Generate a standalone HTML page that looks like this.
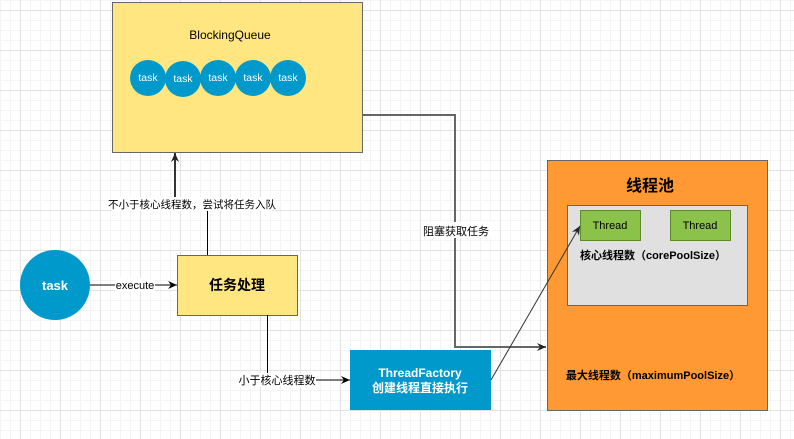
<!DOCTYPE html>
<html><head><meta charset="utf-8"><style>
html,body{margin:0;padding:0;}
body{width:794px;height:439px;overflow:hidden;background:#fff;
background-image:
linear-gradient(to right,#e2e2e2 1px,transparent 1px),
linear-gradient(to bottom,#e2e2e2 1px,transparent 1px),
linear-gradient(to right,#f4f4f4 1px,transparent 1px),
linear-gradient(to bottom,#f4f4f4 1px,transparent 1px);
background-size:40px 40px,40px 40px,10px 10px,10px 10px;
background-position:20px 0,0 10px,0 0,0 0;
font-family:"Liberation Sans","Noto Sans CJK SC",sans-serif;}
svg{position:absolute;left:0;top:0;}
text{font-family:"Liberation Sans","Noto Sans CJK SC",sans-serif;}
</style></head><body>
<svg width="794" height="439" viewBox="0 0 794 439">
<defs>
<marker id="a" markerWidth="10" markerHeight="10" refX="9" refY="5" orient="auto" markerUnits="userSpaceOnUse"><path d="M0,1 L9,5 L0,9 L3,5Z" fill="#000"/></marker>
<marker id="g" markerWidth="10" markerHeight="10" refX="9" refY="5" orient="auto" markerUnits="userSpaceOnUse"><path d="M0,1 L9,5 L0,9 L3,5Z" fill="#222"/></marker>
</defs>
<rect x="112.5" y="2.5" width="250" height="150" fill="#ffe680" stroke="#666"/>
<text x="230" y="39" font-size="12" text-anchor="middle">BlockingQueue</text>
<g fill="#0099cc">
<circle cx="148" cy="78" r="18"/><circle cx="183" cy="79" r="18"/><circle cx="218" cy="78" r="18"/><circle cx="253" cy="78" r="18"/><circle cx="288" cy="78" r="18"/></g>
<g fill="#fff" font-size="10.5" text-anchor="middle">
<text x="148" y="81">task</text><text x="183" y="82">task</text><text x="218" y="81">task</text><text x="253" y="81">task</text><text x="288" y="81">task</text></g>
<polyline points="362,115 455,115 455,347 546,347" fill="none" stroke="#666" stroke-width="2" marker-end="url(#g)"/>
<rect x="421" y="222" width="70" height="16" fill="#fff"/>
<text x="456" y="235" font-size="11" text-anchor="middle">阻塞获取任务</text>
<rect x="547.5" y="160.5" width="220" height="250" fill="#ff9933" stroke="#666"/>
<text x="650" y="191" font-size="16" font-weight="bold" text-anchor="middle">线程池</text>
<rect x="567.5" y="205.5" width="180" height="100" fill="#e0e0e0" stroke="#666"/>
<rect x="580.5" y="210.5" width="60" height="30" fill="#8bc34a" stroke="#5a8a2a"/>
<rect x="670.5" y="210.5" width="60" height="30" fill="#8bc34a" stroke="#5a8a2a"/>
<text x="610" y="229" font-size="11" text-anchor="middle">Thread</text>
<text x="700" y="229" font-size="11" text-anchor="middle">Thread</text>
<text x="653" y="259" font-size="11" font-weight="bold" text-anchor="middle">核心线程数（corePoolSize）</text>
<text x="653" y="379" font-size="11" font-weight="bold" text-anchor="middle">最大线程数（maximumPoolSize）</text>
<circle cx="55" cy="285" r="35" fill="#0099cc"/>
<text x="55" y="290" font-size="13" font-weight="bold" fill="#fff" text-anchor="middle">task</text>
<line x1="90" y1="285" x2="177" y2="285" stroke="#000" stroke-width="1" marker-end="url(#a)"/>
<rect x="115" y="278" width="40" height="14" fill="#fff"/>
<text x="135" y="289" font-size="11" text-anchor="middle">execute</text>
<rect x="177.5" y="255.5" width="120" height="60" fill="#ffe680" stroke="#666"/>
<text x="237" y="290" font-size="14" font-weight="bold" text-anchor="middle">任务处理</text>
<line x1="207.5" y1="255" x2="207.5" y2="210" stroke="#000"/>
<line x1="175" y1="200" x2="175" y2="153" stroke="#333" stroke-width="2" marker-end="url(#g)"/>
<rect x="112" y="197" width="160" height="14" fill="#fff"/>
<text x="192" y="208" font-size="10.5" text-anchor="middle">不小于核心线程数，尝试将任务入队</text>
<polyline points="267.5,315 267.5,380 350,380" fill="none" stroke="#000" marker-end="url(#a)"/>
<rect x="238" y="373" width="78" height="14" fill="#fff"/>
<text x="277" y="384" font-size="11" text-anchor="middle">小于核心线程数</text>
<rect x="350" y="350" width="141" height="60" fill="#0099cc"/>
<text x="420" y="377" font-size="12" font-weight="bold" fill="#fff" text-anchor="middle">ThreadFactory</text>
<text x="420" y="392" font-size="12" font-weight="bold" fill="#fff" text-anchor="middle">创建线程直接执行</text>
<line x1="491" y1="380" x2="580" y2="226" stroke="#333" stroke-width="1" marker-end="url(#g)"/>
</svg>
</body></html>
